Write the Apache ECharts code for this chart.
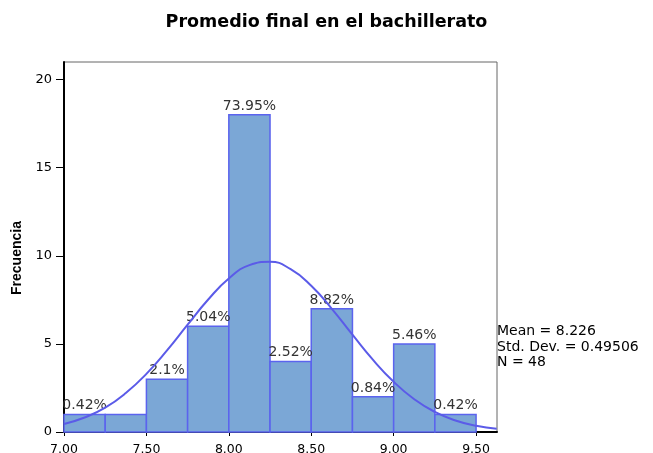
<!DOCTYPE html>
<html>
<head>
<meta charset="utf-8">
<script src="https://cdn.jsdelivr.net/npm/echarts@6/dist/echarts.min.js"></script>
<style>
  html, body { margin: 0; padding: 0; background: #fff; }
  #chart { width: 653px; height: 453px; }
</style>
</head>
<body>
<div id="chart"></div>
<script>
// intervalos del histograma (inicio de cada barra, ancho 0.25)
const binStart = [7.00, 7.25, 7.50, 7.75, 8.00, 8.25, 8.50, 8.75, 9.00, 9.25];
const binWidth = 0.25;
const freq = [1, 1, 3, 6, 18, 4, 7, 2, 5, 1];
const pctLabels = ['0.42%', '', '2.1%', '5.04%', '73.95%', '2.52%', '8.82%', '0.84%', '5.46%', '0.42%'];
// curva normal
const curveX = [7.00, 7.125, 7.25, 7.375, 7.50, 7.625, 7.75, 7.875, 8.00, 8.125, 8.25,
  8.375, 8.50, 8.625, 8.75, 8.875, 9.00, 9.125, 9.25, 9.375, 9.50, 9.625];
const curveY = [0.45, 0.82, 1.38, 2.21, 3.30, 4.63, 6.09, 7.52, 8.71, 9.47, 9.66,
  9.24, 8.30, 6.99, 5.52, 4.09, 2.85, 1.86, 1.14, 0.65, 0.35, 0.18];
const xTicks = [7.00, 7.50, 8.00, 8.50, 9.00, 9.50];
const yTicks = [0, 5, 10, 15, 20];
const statsText = ['Mean = 8.226', 'Std. Dev. = 0.49506', 'N = 48'];

const font = '"DejaVu Sans", Verdana, sans-serif';
const chart = echarts.init(document.getElementById('chart'));

const option = {
  animation: false,
  title: {
    text: 'Promedio final en el bachillerato',
    left: 'center',
    top: 8,
    textStyle: { fontFamily: font, fontSize: 17.5, fontWeight: 'bold', color: '#000' }
  },
  graphic: [{
    type: 'text',
    left: 497,
    top: 324,
    style: {
      text: statsText.join('\n'),
      font: '14px ' + font,
      lineHeight: 15.5,
      fill: '#000'
    }
  }],
  grid: { left: 64, right: 156, top: 62, bottom: 21, outerBoundsMode: 'none', containLabel: false,
    show: true, borderColor: '#666', borderWidth: 1 },
  xAxis: {
    type: 'value',
    min: 7.0,
    max: 9.627,
    interval: 0.5,
    axisLine: { show: true, lineStyle: { color: '#000', width: 2 } },
    axisTick: { show: true, length: 4, lineStyle: { color: '#000' }, customValues: xTicks },
    axisLabel: { fontFamily: font, fontSize: 12.5, color: '#000', margin: 11,
      customValues: xTicks,
      formatter: v => v.toFixed(2) },
    splitLine: { show: false }
  },
  yAxis: {
    type: 'value',
    min: 0,
    max: 21,
    interval: 5,
    name: 'Frecuencia',
    nameLocation: 'middle',
    nameGap: 38,
    nameTextStyle: { fontFamily: '"Liberation Sans Narrow", Arial, sans-serif', fontSize: 14, fontWeight: 'bold',
      color: '#000', padding: [0, 22, 0, 0] },
    axisLine: { show: true, lineStyle: { color: '#000', width: 2 } },
    axisTick: { show: true, length: 8, lineStyle: { color: '#000' }, customValues: yTicks },
    axisLabel: { fontFamily: font, fontSize: 13, color: '#000', margin: 12, customValues: yTicks },
    splitLine: { show: false }
  },
  series: [
    {
      type: 'custom',
      data: binStart.map((s, i) => [s, s + binWidth, freq[i], i]),
      renderItem: (params, api) => {
        const p0 = api.coord([api.value(0), 0]);
        const p1 = api.coord([api.value(1), api.value(2)]);
        const idx = api.value(3);
        return {
          type: 'rect',
          shape: { x: p0[0], y: p1[1], width: p1[0] - p0[0], height: p0[1] - p1[1] },
          style: { fill: '#7ba7d6', stroke: '#5b63ee', lineWidth: 1.5 },
          textContent: {
            style: { text: pctLabels[idx], font: '14px ' + font, fill: '#333' }
          },
          textConfig: { position: 'top', distance: 1 }
        };
      },
      z: 2
    },
    {
      type: 'line',
      data: curveX.map((x, i) => [x, curveY[i]]),
      smooth: true,
      showSymbol: false,
      lineStyle: { color: '#5b5be8', width: 2 },
      z: 3
    }
  ]
};

chart.setOption(option);
</script>
</body>
</html>
